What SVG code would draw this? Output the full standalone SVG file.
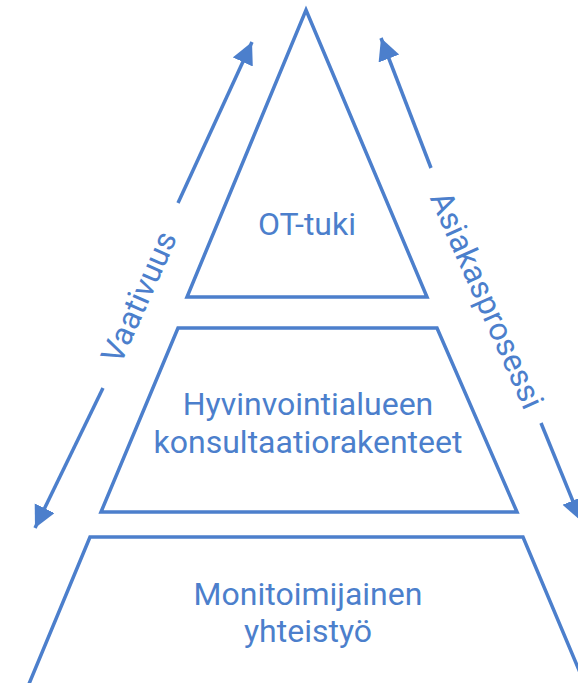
<svg xmlns="http://www.w3.org/2000/svg" width="578" height="683" viewBox="0 0 578 683">
<style>
.shape{fill:#ffffff;stroke:#4C7FCC;stroke-width:3.5;stroke-linejoin:miter}
.conn{fill:none;stroke:#4C7FCC;stroke-width:3.5}
.lbl{font-family:Roboto,"Liberation Sans",sans-serif;font-size:32px;font-weight:400;fill:#4C7FCC;text-anchor:middle}
</style>
<defs>
<marker id="ah" markerUnits="userSpaceOnUse" markerWidth="24" markerHeight="24" refX="22" refY="11" orient="auto">
<path d="M0,0 L22,11 L0,22 z" fill="#4C7FCC"/>
</marker>
</defs>
<rect width="578" height="683" fill="#ffffff"/>
<g id="top">
<polygon class="shape" points="306,10 427,297 187,297"/>
<text class="lbl" x="307" y="235">OT-tuki</text>
</g>
<g id="middle">
<polygon class="shape" points="178,328 437,328 517,512 101,512"/>
<text class="lbl" x="308" y="415">Hyvinvointialueen</text>
<text class="lbl" x="308" y="453">konsultaatiorakenteet</text>
</g>
<g id="bottom">
<polygon class="shape" points="90,537 523,537 600,720 14,720"/>
<text class="lbl" x="308" y="605">Monitoimijainen</text>
<text class="lbl" x="308" y="642">yhteistyö</text>
</g>
<g id="connectors">
<line class="conn" x1="178" y1="203" x2="252" y2="42" marker-end="url(#ah)"/>
<line class="conn" x1="103" y1="388" x2="35" y2="528" marker-end="url(#ah)"/>
<line class="conn" x1="431" y1="168" x2="381" y2="38" marker-end="url(#ah)"/>
<line class="conn" x1="541" y1="423" x2="581" y2="521" marker-end="url(#ah)"/>
</g>
<g id="labels">
<text class="lbl" x="139" y="297" dominant-baseline="central" transform="rotate(-66 139 297)">Vaativuus</text>
<text class="lbl" x="487" y="300" dominant-baseline="central" transform="rotate(66 487 300)">Asiakasprosessi</text>
</g>
</svg>
